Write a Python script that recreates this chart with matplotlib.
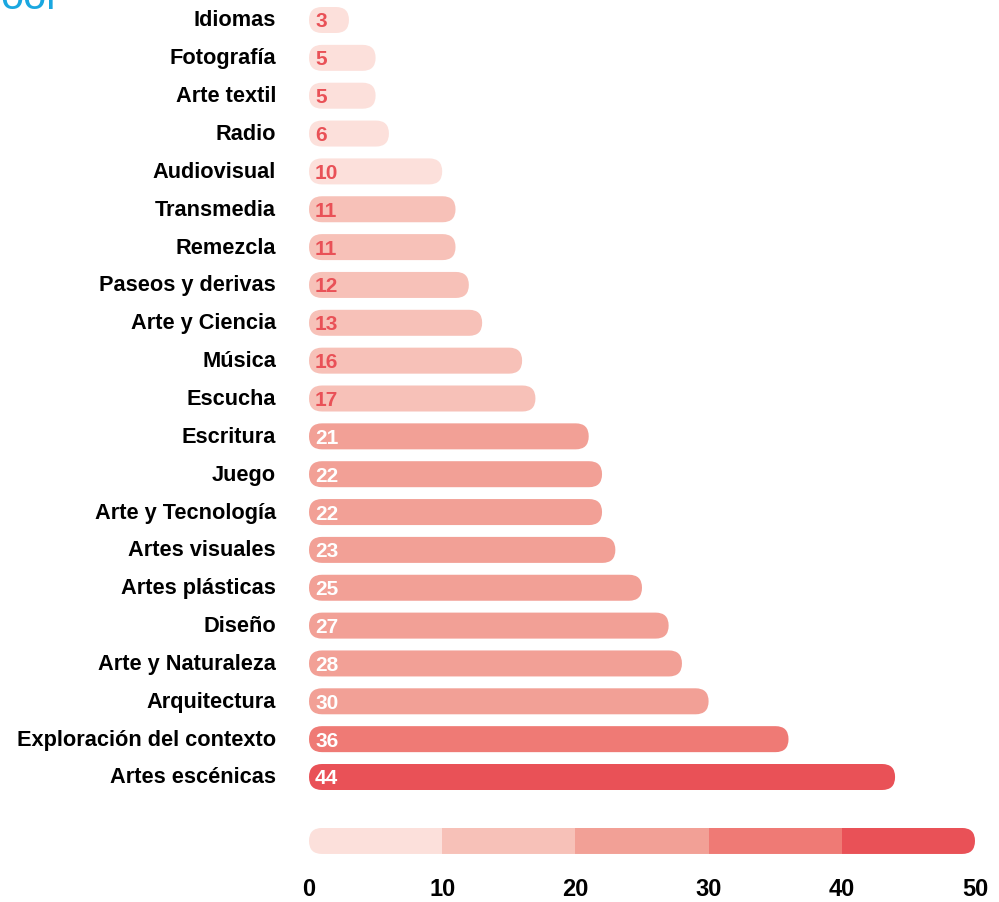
import numpy as np
import matplotlib
matplotlib.use("Agg")
import matplotlib.pyplot as plt
from matplotlib.patches import FancyBboxPatch, Rectangle

plt.rcParams['font.family'] = ['Liberation Sans', 'DejaVu Sans']

# datos
categorias = ["Idiomas", "Fotografía", "Arte textil", "Radio", "Audiovisual",
              "Transmedia", "Remezcla", "Paseos y derivas", "Arte y Ciencia",
              "Música", "Escucha", "Escritura", "Juego", "Arte y Tecnología",
              "Artes visuales", "Artes plásticas", "Diseño", "Arte y Naturaleza",
              "Arquitectura", "Exploración del contexto", "Artes escénicas"]
valores = [3, 5, 5, 6, 10, 11, 11, 12, 13, 16, 17, 21, 22, 22, 23, 25, 27, 28,
           30, 36, 44]
escala = [0, 10, 20, 30, 40, 50]
colores = ["#fce0db", "#f7c1b8", "#f2a096", "#ef7a75", "#e95157"]
rojo = "#e95157"
cyan = "#1aa7e0"

W, H = 999, 903
fig = plt.figure(figsize=(W / 100, H / 100), dpi=100)
ax = fig.add_axes([0, 0, 1, 1])
ax.axis("off")

px_x = 13.32   # px por unidad
px_y = 37.85   # px por fila
ax.set_xlim(-309 / px_x, (W - 309) / px_x)
ax.set_ylim((H - 21) / px_y, -21 / px_y)

xu = 1 / px_x
yu = 1 / px_y
alto = 26 * yu
r = 13 * xu
aspecto = yu / xu


def barra(x0, ancho, y, color, **kw):
    p = FancyBboxPatch((x0, y - alto / 2), ancho, alto,
                       boxstyle=f"round,pad=0,rounding_size={r}",
                       mutation_aspect=aspecto, fc=color, ec="none", **kw)
    ax.add_patch(p)
    return p


def color_de(v):
    i = int(np.ceil(v / 10)) - 1
    return colores[max(0, min(i, 4))]


for i, (c, v) in enumerate(zip(categorias, valores)):
    barra(0, v, i, color_de(v))
    ax.text(-33 * xu, i, c, ha="right", va="center", fontsize=15.7,
            fontweight="bold", color="black")
    tc = rojo if v < 20 else "white"
    ax.text(6 * xu, i + 1 * yu, str(v), ha="left", va="center", fontsize=15,
            fontweight="bold", color=tc)

# leyenda de color
y_ley = 21.69
clip = barra(escala[0], escala[-1] - escala[0], y_ley, "none")
for k in range(5):
    rect = Rectangle((escala[k], y_ley - alto / 2), escala[k + 1] - escala[k],
                     alto, fc=colores[k], ec="none")
    ax.add_patch(rect)
    rect.set_clip_path(clip)

y_tick = y_ley + 48 * yu
for t in escala:
    ax.text(t, y_tick, str(t), ha="center", va="center", fontsize=17,
            fontweight="bold", color="black")

fig.text(0.0, 1 - 9 / H, "ool", color=cyan, fontsize=30, ha="left",
         va="baseline")

fig.savefig("out.png", dpi=100)
